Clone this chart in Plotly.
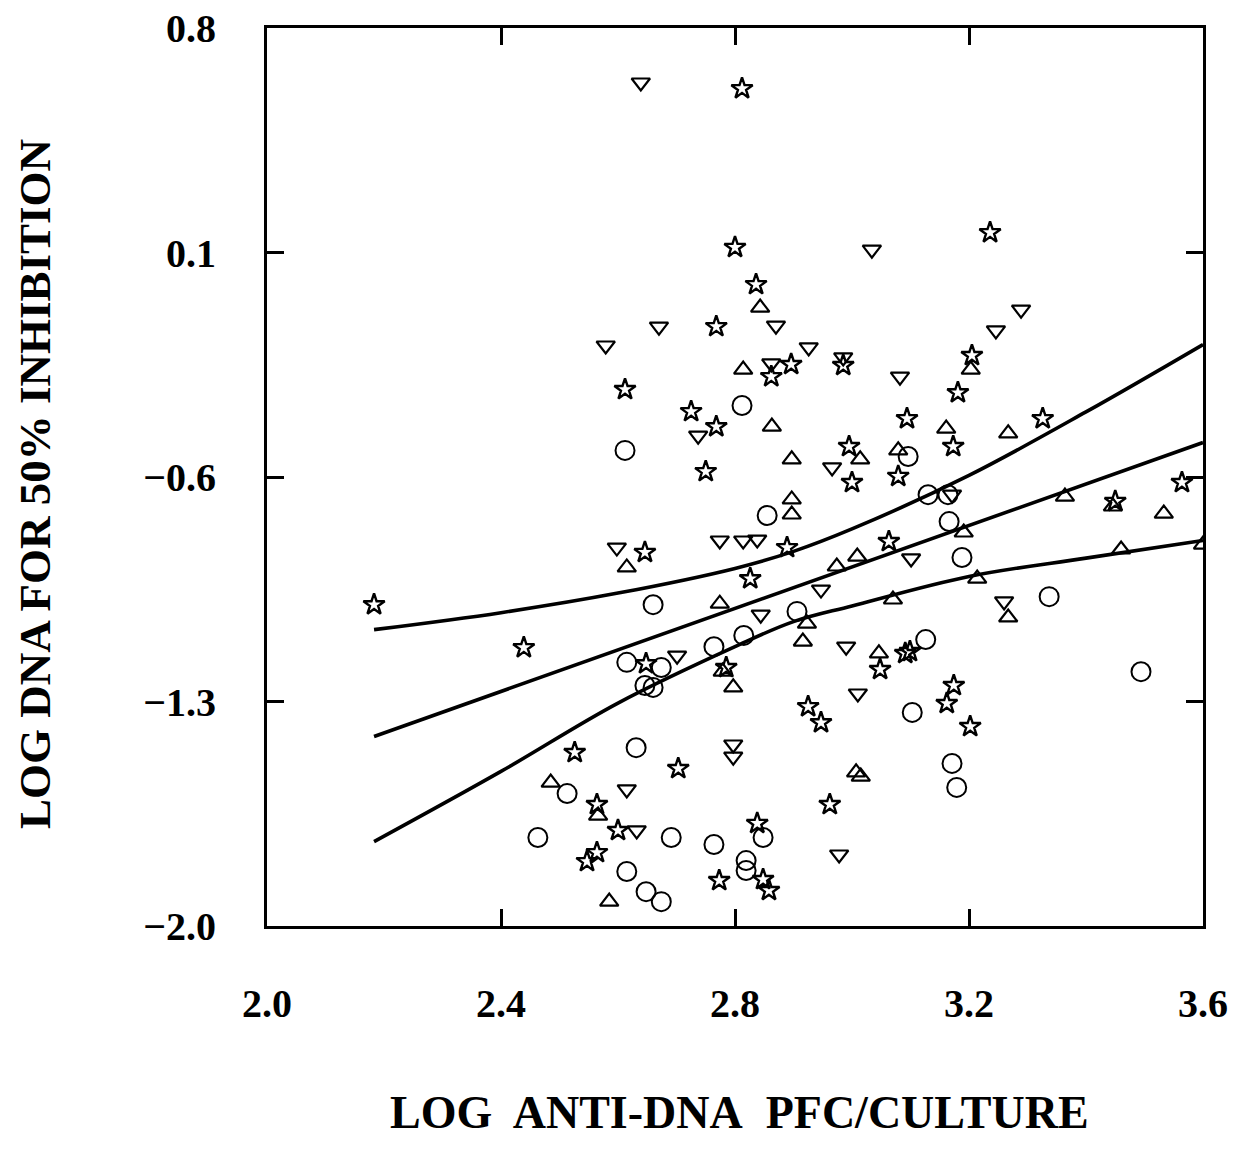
import plotly.graph_objects as go

# ---- data ----
star_x = [2.183, 2.439, 2.812, 3.236, 2.800, 2.836, 2.768, 2.612, 2.862, 2.896,
          2.985, 3.205, 3.181, 3.326, 3.094, 3.173, 2.725, 2.768, 2.750, 2.995,
          3.000, 3.079, 3.450, 3.564, 2.646, 2.889, 3.063, 2.826, 2.648, 2.785,
          3.048, 3.091, 3.099, 3.174, 3.162, 3.202, 2.925, 2.947, 2.526, 2.703,
          2.962, 2.564, 2.600, 2.564, 2.547, 2.838, 2.773, 2.848, 2.858]
star_y = [-0.998, -1.132, 0.611, 0.162, 0.116, 0.000, -0.131, -0.327, -0.287, -0.249,
          -0.252, -0.221, -0.337, -0.418, -0.418, -0.505, -0.396, -0.443, -0.583, -0.505,
          -0.617, -0.598, -0.676, -0.617, -0.835, -0.820, -0.801, -0.917, -1.182, -1.194,
          -1.200, -1.150, -1.144, -1.250, -1.306, -1.378, -1.316, -1.366, -1.459, -1.509,
          -1.621, -1.621, -1.702, -1.771, -1.799, -1.680, -1.858, -1.855, -1.889]

tri_up_x = [2.843, 2.814, 3.203, 2.863, 3.161, 3.267, 2.897, 3.014, 3.079, 2.897,
            2.897, 3.364, 3.446, 3.533, 3.191, 3.009, 2.974, 2.615, 3.460, 3.600,
            3.214, 2.774, 3.070, 2.923, 2.916, 3.267, 3.046, 2.779, 2.797, 2.485,
            2.566, 2.585, 3.007, 3.015]
tri_up_y = [-0.072, -0.265, -0.265, -0.443, -0.449, -0.464, -0.545, -0.545, -0.517, -0.670,
            -0.717, -0.661, -0.692, -0.714, -0.773, -0.848, -0.879, -0.882, -0.826, -0.811,
            -0.917, -0.995, -0.982, -1.057, -1.113, -1.038, -1.150, -1.207, -1.256, -1.553,
            -1.656, -1.924, -1.521, -1.534]

tri_dn_x = [2.639, 3.034, 3.289, 3.246, 2.670, 2.870, 2.579, 2.926, 2.862, 2.985,
            3.082, 2.737, 2.966, 3.171, 2.598, 2.774, 2.814, 2.838, 3.101, 2.947,
            2.844, 3.260, 2.701, 2.990, 3.010, 2.797, 2.797, 2.615, 2.632, 2.978]
tri_dn_y = [0.630, 0.109, -0.078, -0.143, -0.131, -0.128, -0.190, -0.196, -0.246, -0.227,
            -0.287, -0.471, -0.570, -0.655, -0.820, -0.798, -0.798, -0.795, -0.854, -0.951,
            -1.029, -0.988, -1.157, -1.129, -1.275, -1.434, -1.472, -1.574, -1.702, -1.777]

circ_x = [2.812, 2.612, 3.096, 3.130, 3.164, 2.855, 3.166, 3.188, 2.660, 2.906,
          3.337, 2.815, 2.764, 3.126, 2.615, 2.674, 2.646, 2.660, 3.494, 3.103,
          2.631, 3.171, 3.179, 2.513, 2.463, 2.691, 2.764, 2.848, 2.819, 2.819,
          2.615, 2.648, 2.674]
circ_y = [-0.377, -0.517, -0.536, -0.655, -0.655, -0.720, -0.739, -0.851, -0.998, -1.019,
          -0.973, -1.094, -1.129, -1.107, -1.178, -1.194, -1.250, -1.256, -1.207, -1.334,
          -1.444, -1.493, -1.568, -1.587, -1.724, -1.724, -1.746, -1.724, -1.796, -1.827,
          -1.830, -1.893, -1.924]

# regression line and confidence band
fit_x = [2.183, 3.600]
fit_y = [-1.409, -0.4925]
band_x = [2.183, 2.40, 2.60, 2.80, 2.90, 3.00, 3.20, 3.40, 3.60]
band_upper = [-1.076, -1.023, -0.962, -0.885, -0.832, -0.762, -0.595, -0.397, -0.187]
band_lower = [-1.737, -1.518, -1.305, -1.129, -1.051, -1.002, -0.910, -0.853, -0.798]

x_ticks = [2.0, 2.4, 2.8, 3.2, 3.6]
y_ticks = [0.8, 0.1, -0.6, -1.3, -2.0]
x_title = "LOG\u00a0 ANTI-DNA\u00a0 PFC/CULTURE"
y_title = "LOG DNA FOR 50% INHIBITION"

BLACK = "#000000"
fig = go.Figure()

line_style = dict(color=BLACK, width=3.6)
fig.add_trace(go.Scatter(x=band_x, y=band_upper, mode="lines", line=dict(shape="spline", **line_style), hoverinfo="skip"))
fig.add_trace(go.Scatter(x=fit_x, y=fit_y, mode="lines", line=line_style, hoverinfo="skip"))
fig.add_trace(go.Scatter(x=band_x, y=band_lower, mode="lines", line=dict(shape="spline", **line_style), hoverinfo="skip"))

fig.add_trace(go.Scatter(x=circ_x, y=circ_y, mode="markers",
                         marker=dict(symbol="circle-open", size=19, color=BLACK, line=dict(width=2, color=BLACK))))
fig.add_trace(go.Scatter(x=tri_up_x, y=tri_up_y, mode="markers",
                         marker=dict(symbol="triangle-up-open", size=16, color=BLACK, line=dict(width=2.2, color=BLACK))))
fig.add_trace(go.Scatter(x=tri_dn_x, y=tri_dn_y, mode="markers",
                         marker=dict(symbol="triangle-down-open", size=16, color=BLACK, line=dict(width=2.2, color=BLACK))))
fig.add_trace(go.Scatter(x=star_x, y=star_y, mode="markers",
                         marker=dict(symbol="star-open", size=16, color=BLACK, line=dict(width=2.4, color=BLACK))))

tick_font = dict(family="Liberation Serif", size=40, color=BLACK, weight="bold")
axis_common = dict(showgrid=False, zeroline=False, showline=True, linecolor=BLACK, linewidth=3,
                   mirror="ticks", ticks="inside", ticklen=17, tickwidth=3, tickcolor=BLACK,
                   tickfont=tick_font, automargin=False)

fig.update_layout(
    width=1238, height=1152,
    margin=dict(l=267, r=35, t=28, b=226, autoexpand=False),
    paper_bgcolor="white", plot_bgcolor="white",
    showlegend=False,
    xaxis=dict(range=[2.0, 3.6], tickvals=x_ticks, ticktext=[f"{v:.1f}" for v in x_ticks],
               ticklabelstandoff=40, **axis_common),
    yaxis=dict(range=[-2.0, 0.8], tickvals=y_ticks, ticktext=[f"{v:.1f}".replace("-", "\u2212") for v in y_ticks],
               ticklabelstandoff=40, **axis_common),
    annotations=[
        dict(text=y_title, xref="paper", yref="paper", x=0, y=0.5, xanchor="center", yanchor="middle",
             xshift=-232, yshift=-7, textangle=-90, showarrow=False,
             font=dict(family="Liberation Serif", size=45, color=BLACK, weight="bold")),
        dict(text=x_title, xref="paper", yref="paper", x=0.5, y=0, xanchor="center", yanchor="middle",
             xshift=4, yshift=-186, showarrow=False,
             font=dict(family="Liberation Serif", size=46, color=BLACK, weight="bold")),
    ],
)

fig.write_html("out.html")
